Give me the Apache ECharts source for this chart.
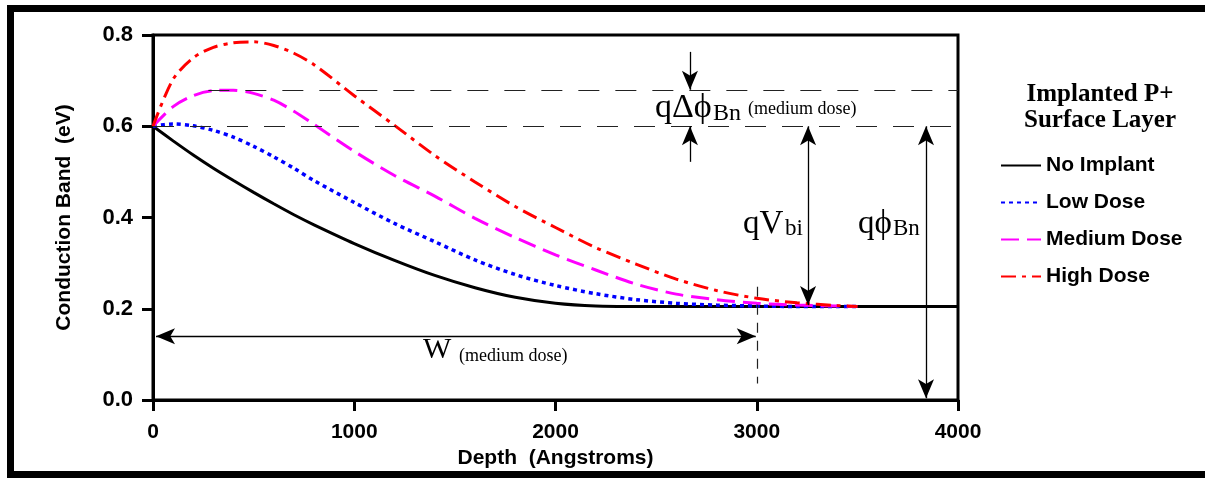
<html lang="en">
<head>
<meta charset="UTF-8">
<title>Conduction Band</title>
<script src="https://cdn.jsdelivr.net/npm/echarts@6/dist/echarts.min.js"></script>
<style>
body { margin: 0; background: #fff; }
#wrap { position: relative; width: 1205px; height: 478px; overflow: hidden; }
#main { position: absolute; left: 0; top: 0; width: 1205px; height: 478px; }
.bar { position: absolute; background: #000; z-index: 5; }
</style>
</head>
<body>
<div id="wrap">
<div id="main"></div>
<div class="bar" style="left:7px;top:5px;width:1198px;height:7px;"></div>
<div class="bar" style="left:7px;top:5px;width:7px;height:473px;"></div>
<div class="bar" style="left:7px;top:471px;width:1198px;height:7px;"></div>
</div>
<script type="text/javascript">
// depth in Angstroms, energy in eV
var depth = [0, 100, 200, 300, 400, 500, 600, 700, 800, 1000, 1200, 1400, 1600, 1800, 2000, 2200, 2400, 2600, 2800, 3000, 3200, 3400, 3500, 4000];
var noImplant = [0.600, 0.568, 0.537, 0.508, 0.481, 0.455, 0.430, 0.406, 0.384, 0.343, 0.306, 0.273, 0.246, 0.225, 0.212, 0.206, 0.205, 0.205, 0.205, 0.205, 0.205, 0.205, 0.205, 0.205];
var lowDose = [0.600, 0.605, 0.601, 0.591, 0.576, 0.556, 0.533, 0.508, 0.481, 0.433, 0.387, 0.347, 0.307, 0.275, 0.251, 0.233, 0.220, 0.212, 0.208, 0.206, 0.205, 0.205, 0.205, null];
var mediumDose = [0.600, 0.643, 0.667, 0.678, 0.679, 0.672, 0.657, 0.633, 0.604, 0.545, 0.492, 0.447, 0.398, 0.356, 0.318, 0.285, 0.254, 0.232, 0.220, 0.212, 0.208, 0.206, 0.205, null];
var highDose = [0.600, 0.703, 0.750, 0.773, 0.783, 0.785, 0.777, 0.760, 0.735, 0.667, 0.602, 0.536, 0.478, 0.424, 0.378, 0.334, 0.298, 0.265, 0.240, 0.223, 0.213, 0.207, 0.205, null];
var names = ['No Implant', 'Low Dose', 'Medium Dose', 'High Dose'];
var xTicks = [0, 1000, 2000, 3000, 4000];
var yTicks = [0.0, 0.2, 0.4, 0.6, 0.8];

function pairs(arr) {
	return depth.map(function(d, i){ return [d, arr[i]]; }).filter(function(p){ return p[1] !== null; });
}

var sans = '"Liberation Sans", Arial, sans-serif';
var serif = '"Liberation Serif", "DejaVu Serif", serif';
var arrowSize = [12, 19];
var solid = {type: 'solid', width: 1.3, color: '#000'};

var chart = echarts.init(document.getElementById('main'));
var option = {
	animation: false,
	title: {
		text: 'Implanted P+\nSurface Layer',
		left: 1095,
		top: 77,
		textAlign: 'center',
		textStyle: {fontFamily: serif, fontWeight: 'bold', fontSize: 25, lineHeight: 26, color: '#000'}
	},
	legend: {
		data: names,
		orient: 'vertical',
		left: 995,
		top: 150,
		itemWidth: 40,
		itemHeight: 14,
		itemGap: 16,
		itemStyle: {opacity: 0},
		textStyle: {fontFamily: sans, fontWeight: 'bold', fontSize: 21, lineHeight: 21, color: '#000'}
	},
	grid: {left: 153, right: 247, top: 35, bottom: 78, show: true, borderColor: '#000', borderWidth: 3},
	xAxis: {
		type: 'value', min: xTicks[0], max: xTicks[xTicks.length - 1], interval: 1000,
		name: 'Depth  (Angstroms)', nameLocation: 'middle', nameGap: 46,
		nameTextStyle: {fontFamily: sans, fontWeight: 'bold', fontSize: 21, color: '#000'},
		axisLine: {lineStyle: {color: '#000', width: 3}},
		axisTick: {length: 11, lineStyle: {width: 3}},
		axisLabel: {margin: 22, fontFamily: sans, fontWeight: 'bold', fontSize: 21, color: '#000',
			formatter: function(v){ return String(v); }},
		splitLine: {show: false}
	},
	yAxis: {
		type: 'value', min: yTicks[0], max: yTicks[yTicks.length - 1], interval: 0.2,
		name: 'Conduction Band  (eV)', nameLocation: 'middle', nameGap: 78,
		nameTextStyle: {fontFamily: sans, fontWeight: 'bold', fontSize: 21, color: '#000'},
		axisLine: {lineStyle: {color: '#000', width: 3}},
		axisTick: {length: 11, lineStyle: {width: 3}},
		axisLabel: {margin: 20, fontFamily: sans, fontWeight: 'bold', fontSize: 22, color: '#000',
			formatter: function(v){ return v.toFixed(1); }},
		splitLine: {show: false}
	},
	series: [{
		name: names[0], type: 'line', data: pairs(noImplant), smooth: 0.3, symbol: 'none', z: 3,
		lineStyle: {color: '#000', width: 3},
		itemStyle: {color: '#000'},
		markLine: {
			silent: true, symbol: 'none', label: {show: false},
			lineStyle: {color: '#222', width: 1.2, type: [21, 16]},
			data: [
				[{coord: [275, 0.68]}, {coord: [4000, 0.68]}],
				[{coord: [0, 0.6]}, {coord: [4000, 0.6]}],
				[{coord: [3000, 0.248], lineStyle: {color: '#222', width: 1.2, type: [10, 8]}}, {coord: [3000, 0.036]}],
				[{coord: [15, 0.140], symbol: 'arrow', symbolSize: arrowSize, lineStyle: solid},
				 {coord: [2995, 0.140], symbol: 'arrow', symbolSize: arrowSize}],
				[{coord: [2668, 0.763], lineStyle: solid}, {coord: [2668, 0.68], symbol: 'arrow', symbolSize: arrowSize}],
				[{coord: [2668, 0.522], lineStyle: solid}, {coord: [2668, 0.6], symbol: 'arrow', symbolSize: arrowSize}],
				[{coord: [3255, 0.6], symbol: 'arrow', symbolSize: arrowSize, lineStyle: solid},
				 {coord: [3255, 0.208], symbol: 'arrow', symbolSize: arrowSize}],
				[{coord: [3841, 0.6], symbol: 'arrow', symbolSize: arrowSize, lineStyle: solid},
				 {coord: [3841, 0.004], symbol: 'arrow', symbolSize: arrowSize}]
			]
		}
	}, {
		name: names[1], type: 'line', data: pairs(lowDose), smooth: 0.3, symbol: 'none',
		lineStyle: {color: '#0000ff', width: 3.5, type: [4, 4]},
		itemStyle: {color: '#0000ff'}
	}, {
		name: names[2], type: 'line', data: pairs(mediumDose), smooth: 0.3, symbol: 'none',
		lineStyle: {color: '#ff00ff', width: 3, type: [18, 8]},
		itemStyle: {color: '#ff00ff'}
	}, {
		name: names[3], type: 'line', data: pairs(highDose), smooth: 0.3, symbol: 'none',
		lineStyle: {color: '#ff0000', width: 3, type: [15, 6, 4, 6]},
		itemStyle: {color: '#ff0000'}
	}],
	graphic: [
		{type: 'text', x: 655, y: 108, style: {text: 'q\u0394\u03d5', font: '34px ' + serif, fill: '#000', verticalAlign: 'middle'}},
		{type: 'text', x: 713, y: 114, style: {text: 'Bn', font: '24px ' + serif, fill: '#000', verticalAlign: 'middle'}},
		{type: 'text', x: 748, y: 109, style: {text: '(medium dose)', font: '18px ' + serif, fill: '#000', verticalAlign: 'middle'}},
		{type: 'text', x: 743, y: 224, style: {text: 'qV', font: '33px ' + serif, fill: '#000', verticalAlign: 'middle'}},
		{type: 'text', x: 785, y: 229, style: {text: 'bi', font: '23px ' + serif, fill: '#000', verticalAlign: 'middle'}},
		{type: 'text', x: 858, y: 224, style: {text: 'q\u03d5', font: '33px ' + serif, fill: '#000', verticalAlign: 'middle'}},
		{type: 'text', x: 893, y: 229, style: {text: 'Bn', font: '23px ' + serif, fill: '#000', verticalAlign: 'middle'}},
		{type: 'text', x: 423, y: 350, style: {text: 'W', font: '30px ' + serif, fill: '#000', verticalAlign: 'middle'}},
		{type: 'text', x: 459, y: 356, style: {text: '(medium dose)', font: '18px ' + serif, fill: '#000', verticalAlign: 'middle'}}
	]
};
chart.setOption(option);
</script>
</body>
</html>
